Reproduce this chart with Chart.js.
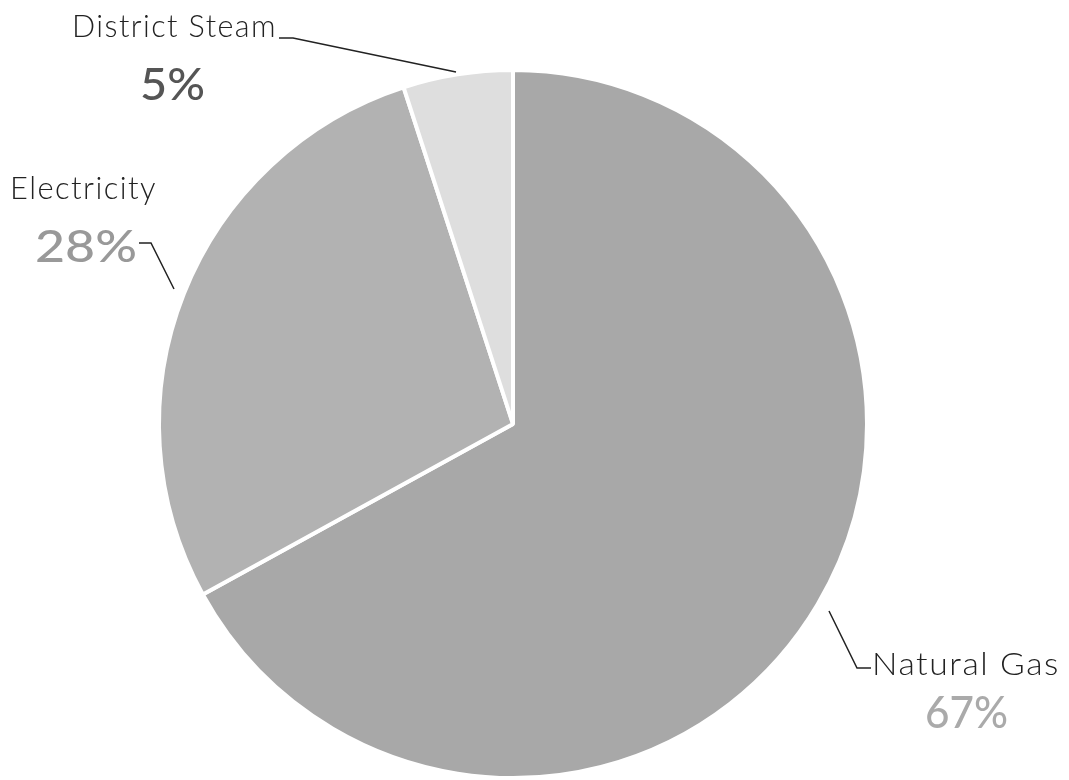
<!DOCTYPE html>
<html>
<head>
<meta charset="utf-8">
<script src="https://cdn.jsdelivr.net/npm/chart.js@4/dist/chart.umd.min.js"></script>
<style>
html,body{margin:0;padding:0;background:#fff;}
#wrap{width:1069px;height:780px;position:relative;}
</style>
</head>
<body>
<div id="wrap"><canvas id="c" width="1069" height="780"></canvas></div>
<script>
const categories = ["Natural Gas", "Electricity", "District Steam"];
const values = [67, 28, 5];
const pctLabels = ["67%", "28%", "5%"];
const colors = ["#a8a8a8", "#b2b2b2", "#dedede"];

const labelPlugin = {
  id: 'labels',
  afterDraw(chart) {
    const ctx = chart.ctx;
    ctx.save();
    ctx.strokeStyle = '#222';
    ctx.lineWidth = 1.5;
    ctx.beginPath();
    ctx.moveTo(279, 38); ctx.lineTo(293, 38); ctx.lineTo(456, 72);
    ctx.moveTo(139, 243); ctx.lineTo(151, 243); ctx.lineTo(174, 289);
    ctx.moveTo(829, 611); ctx.lineTo(857, 668); ctx.lineTo(871, 668);
    ctx.stroke();

    ctx.fillStyle = '#222';
    ctx.textBaseline = 'alphabetic';
    ctx.textAlign = 'left';
    ctx.font = '300 32px "Lato", "Open Sans", sans-serif';
    ctx.letterSpacing = '1.5px';
    const fit = (t, x, y, w) => {
      const m = ctx.measureText(t).width;
      ctx.save(); ctx.translate(x, y); ctx.scale(w / m, 1); ctx.fillText(t, 0, 0); ctx.restore();
    };
    fit(categories[2], 72, 37, 205);
    fit(categories[1], 10, 199, 147);
    fit(categories[0], 872, 675, 188);

    ctx.letterSpacing = '0px';
    ctx.font = '500 44px "Lato", "Open Sans", sans-serif';
    ctx.fillStyle = '#555';
    fit(pctLabels[2], 140, 100, 65);
    ctx.fillStyle = '#999';
    fit(pctLabels[1], 35, 262, 102);
    ctx.fillStyle = '#aaa';
    fit(pctLabels[0], 925, 728, 83);
    ctx.restore();
  }
};

new Chart(document.getElementById('c'), {
  type: 'pie',
  data: {
    labels: categories,
    datasets: [{
      data: values,
      backgroundColor: colors,
      borderColor: '#ffffff',
      borderWidth: 4
    }]
  },
  options: {
    responsive: false,
    animation: false,
    layout: { padding: { left: 155, right: 198, top: 68, bottom: 0 } },
    plugins: { legend: { display: false }, tooltip: { enabled: false } }
  },
  plugins: [labelPlugin]
});
</script>
</body>
</html>
